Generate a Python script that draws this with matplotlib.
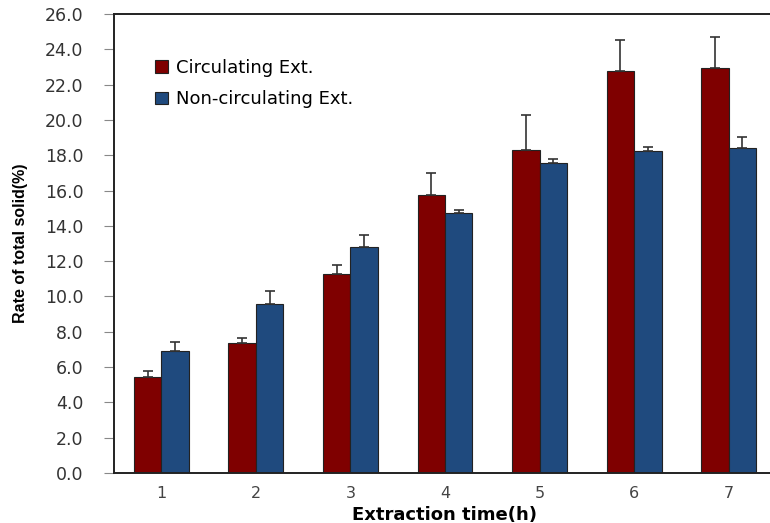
import numpy as np
import matplotlib.pyplot as plt

hours = [1, 2, 3, 4, 5, 6, 7]
circ = [5.45, 7.35, 11.3, 15.75, 18.28, 22.78, 22.96]
circ_err = [0.3, 0.28, 0.5, 1.25, 2.0, 1.75, 1.72]
noncirc = [6.92, 9.55, 12.8, 14.72, 17.56, 18.24, 18.43]
noncirc_err = [0.5, 0.75, 0.68, 0.2, 0.25, 0.25, 0.62]
yticks = np.arange(0, 26.1, 2)

red = '#7f0000'
blue = '#1f4a7e'

fig = plt.figure(figsize=(7.7, 5.23), dpi=100)
ax = fig.add_axes([114/770, 1 - 473/523, (776 - 114)/770, (473 - 14)/523])

x = np.array(hours)
w = 0.29
ax.bar(x - w/2, circ, w, color=red, edgecolor='#222222', linewidth=0.8,
       label='Circulating Ext.')
ax.bar(x + w/2, noncirc, w, color=blue, edgecolor='#222222', linewidth=0.8,
       label='Non-circulating Ext.')

# upper-only error bars
ax.errorbar(x - w/2, circ, yerr=[np.zeros(len(circ)), circ_err], fmt='none',
            ecolor='#333333', elinewidth=1.2, capsize=3.8, capthick=1.2)
ax.errorbar(x + w/2, noncirc, yerr=[np.zeros(len(noncirc)), noncirc_err], fmt='none',
            ecolor='#333333', elinewidth=1.2, capsize=3.8, capthick=1.2)

ax.set_xlim(0.5, 7.5)
ax.set_ylim(0, 26)
ax.set_yticks(yticks)
ax.set_yticklabels([f'{v:.1f}' for v in yticks], fontsize=12.5, color='#333333')
ax.set_xticks(hours)
ax.set_xticklabels([str(h) for h in hours], fontsize=11.5, color='#444444')
ax.tick_params(axis='y', length=7, color='#888888', pad=15)
ax.tick_params(axis='x', length=0, pad=9)

for s in ['left', 'top', 'bottom']:
    ax.spines[s].set_linewidth(1.4)
    ax.spines[s].set_color('#222222')
ax.spines['right'].set_visible(False)

ax.set_xlabel('Extraction time(h)', fontsize=13, fontweight='bold', labelpad=4)
ax.set_ylabel('Rate of total solid(%)', fontsize=11.5, fontweight='bold',
              family='Liberation Sans', labelpad=12)

ax.legend(loc='upper left', bbox_to_anchor=(0.051, 0.918), frameon=False,
          fontsize=13, handlelength=0.7, handleheight=0.7, handletextpad=0.45,
          labelspacing=0.75, borderaxespad=0)

fig.savefig('out.png', dpi=100)
